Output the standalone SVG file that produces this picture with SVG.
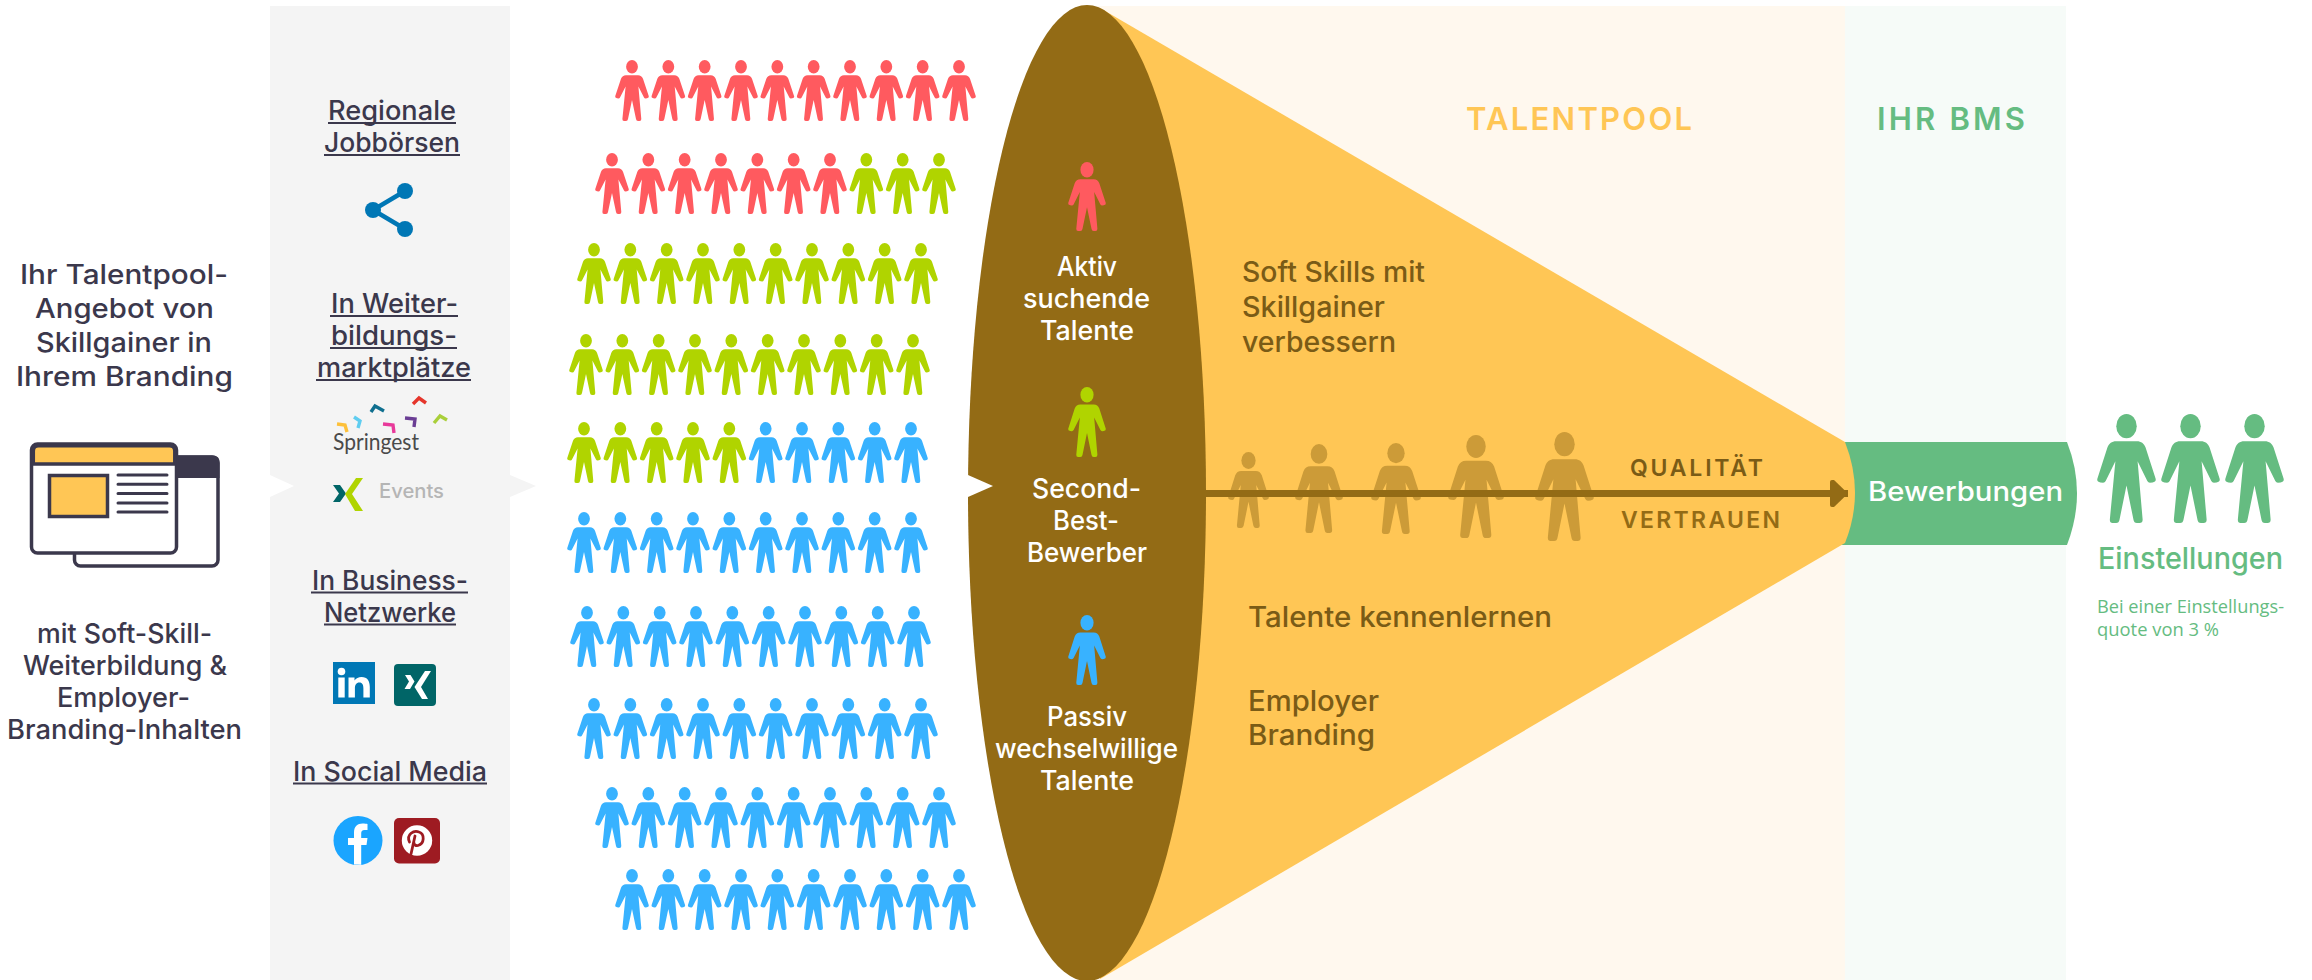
<svg xmlns="http://www.w3.org/2000/svg" width="2312" height="980" viewBox="0 0 2312 980">
<style>
text{font-family:"Inter","Noto Sans","Liberation Sans",sans-serif;font-size:27px;font-weight:500}
.d{fill:#3b384c}
.w{fill:#fff}
.f{fill:#7a5b16;font-weight:500;font-size:28px}
.cap{font-weight:600;font-size:23px}
.h{font-weight:600;font-size:31px}
.u{stroke:#3b384c;stroke-width:2;fill:none}
.r{fill:#ff5a5f}.g{fill:#b0d400}.b{fill:#38b2ff}.e{fill:#65bc81}.p{fill:#cc9b38}
.win{fill:#fff;stroke:#3b384c;stroke-width:3.5}
.ln{stroke:#3b384c;stroke-width:3;stroke-linecap:round}
.ch{fill:none;stroke-width:3.4}
</style>
<defs>
<g id="p">
<ellipse cx="17" cy="6.8" rx="5.9" ry="6.8"/>
<path d="M11 15.3H23C25.5 15.3 27 16.5 28 18.7L33.8 36.3Q34.2 38 32 38.3L30.5 38.5Q29.5 38.5 29 37.5L23.4 26.5L26.3 59Q26.4 61 24.5 61H23Q21.3 61 21 59L17 40L13 59Q12.7 61 11 61H9Q7.3 61 7.4 59L10.6 26.5L5 37.5Q4.5 38.5 3.5 38.5L2 38.3Q-.2 38 .2 36.3L6 18.7C7 16.5 8.5 15.3 11 15.3Z"/>
</g>
<marker id="ah" viewBox="0 0 18 27" refX="18" refY="13.5" markerWidth="18" markerHeight="27" markerUnits="userSpaceOnUse" orient="auto">
<path d="M2 0Q0 0 0 2V25Q0 27 2 27L4 27L18 13.5L4 0Z" fill="#936b15"/>
</marker>
</defs>

<g id="panels">
<rect x="270" y="6" width="240" height="974" fill="#f4f4f4"/>
<rect x="1087" y="6" width="758" height="974" fill="#fff8ee"/>
<rect x="1845" y="6" width="221" height="974" fill="#f6fbf8"/>
<path d="M270 475L294 486L270 497Z" fill="#fff"/>
<path d="M510 475L536 486L510 497Z" fill="#f4f4f4"/>
</g>

<g id="intro">
<text class="d" x="20" y="284" textLength="208" lengthAdjust="spacingAndGlyphs">Ihr Talentpool-</text>
<text class="d" x="35" y="318" textLength="179" lengthAdjust="spacingAndGlyphs">Angebot von</text>
<text class="d" x="36" y="352" textLength="176" lengthAdjust="spacingAndGlyphs">Skillgainer in</text>
<text class="d" x="16" y="386" textLength="217" lengthAdjust="spacingAndGlyphs">Ihrem Branding</text>
<text class="d" x="37" y="643" textLength="175" lengthAdjust="spacingAndGlyphs">mit Soft-Skill-</text>
<text class="d" x="23" y="675" textLength="204" lengthAdjust="spacingAndGlyphs">Weiterbildung &amp;</text>
<text class="d" x="57" y="707" textLength="133" lengthAdjust="spacingAndGlyphs">Employer-</text>
<text class="d" x="7" y="739" textLength="235" lengthAdjust="spacingAndGlyphs">Branding-Inhalten</text>
</g>

<g id="browser-icon">
<rect class="win" x="74.5" y="457" width="143.500" height="109" rx="6"/>
<path d="M150 455.500H213Q219.500 455.500 219.500 462V478H150Z" fill="#3b384c"/>
<rect class="win" x="31.500" y="444" width="145" height="109" rx="6"/>
<path d="M33.300 464V451Q33.300 445.800 38.500 445.800H169.500Q174.800 445.800 174.800 451V464Z" fill="#ffc655" stroke="#3b384c" stroke-width="3.500"/>
<rect x="49.500" y="475.500" width="58" height="41" fill="#ffc655" stroke="#3b384c" stroke-width="3.500"/>
<path class="ln" d="M118 475H167M118 484.300H167M118 493.500H167M118 503H167M118 512H167"/>
</g>

<g id="regionale-jobboersen">
<text class="d" x="328" y="120" textLength="128" lengthAdjust="spacingAndGlyphs">Regionale</text>
<path class="u" d="M328 123H456"/>
<text class="d" x="324" y="152" textLength="136" lengthAdjust="spacingAndGlyphs">Jobbörsen</text>
<path class="u" d="M324 155H460"/>
<path d="M405 191L373 210L405 229" fill="none" stroke="#0077b5" stroke-width="4.500"/>
<circle cx="405" cy="191" r="8" fill="#0077b5"/><circle cx="373" cy="210" r="8" fill="#0077b5"/><circle cx="405" cy="229" r="8" fill="#0077b5"/>
</g>

<g id="weiterbildungsmarktplaetze">
<text class="d" x="331" y="313" textLength="127" lengthAdjust="spacingAndGlyphs">In Weiter-</text>
<path class="u" d="M330 316H458"/>
<text class="d" x="331" y="345" textLength="126" lengthAdjust="spacingAndGlyphs">bildungs-</text>
<path class="u" d="M330 348H457"/>
<text class="d" x="317" y="377" textLength="154" lengthAdjust="spacingAndGlyphs">marktplätze</text>
<path class="u" d="M316 380H471"/>
<path class="ch" stroke="#e5352b" d="M413 404L419 398L426 403"/>
<path class="ch" stroke="#0f6f8f" d="M371 412L375 406L384 411"/>
<path class="ch" stroke="#5fcdf0" d="M354 417L360 421L358 428"/>
<path class="ch" stroke="#fdc03a" d="M337 424L345 425L347 432"/>
<path class="ch" stroke="#e8399a" d="M383 424L393 425L394 433"/>
<path class="ch" stroke="#6a3d94" d="M405 418L415 419L414 427"/>
<path class="ch" stroke="#a9cf3a" d="M434 423L440 416L447 420"/>
<text x="333" y="450" textLength="86" lengthAdjust="spacingAndGlyphs" style="font-family:Lato,'Noto Sans',sans-serif;font-size:24px;font-weight:400;fill:#4a4a4a">Springest</text>
<path d="M333 485H340L346 493.500L340 502H333L339 493.500Z" fill="#006567"/>
<path d="M356 478H363L352 494L363 511H355L345 494Z" fill="#b0d400"/>
<text x="379" y="498" textLength="65" lengthAdjust="spacingAndGlyphs" style="font-size:20px;fill:#b5b5b5">Events</text>
</g>

<g id="business-netzwerke">
<text class="d" x="312" y="590" textLength="156" lengthAdjust="spacingAndGlyphs">In Business-</text>
<path class="u" d="M311 592.500H468"/>
<text class="d" x="324" y="622" textLength="132" lengthAdjust="spacingAndGlyphs">Netzwerke</text>
<path class="u" d="M324 624.500H456"/>
<g transform="translate(0,1)">
<rect x="333" y="661" width="42" height="42" fill="#0077b5"/>
<circle cx="341.500" cy="670.500" r="3.800" fill="#fff"/>
<rect x="338.300" y="676.500" width="6.400" height="20" fill="#fff"/>
<path d="M348.500 676.500H354.500V679.500C356 677.500 358.500 676 361.500 676C367.500 676 369.800 680 369.800 686V696.500H363.400V687.500C363.400 684 362.500 681.500 359.300 681.500C356.300 681.500 354.900 684 354.900 687.500V696.500H348.500Z" fill="#fff"/>
<rect x="394" y="663" width="42" height="42" rx="4" fill="#006567"/>
<path d="M405 674H410.500L414.500 680.500L410 688H404.500L409 680.500ZM425 670H431L421 686L428 698H422L414.500 686Z" fill="#fff"/>
</g>
</g>

<g id="social-media">
<text class="d" x="293" y="781" textLength="194" lengthAdjust="spacingAndGlyphs">In Social Media</text>
<path class="u" d="M293 783.500H487"/>
<g transform="translate(0,1)">
<circle cx="358" cy="839.500" r="24.500" fill="#1aa5ff"/>
<path d="M354 863.500V844H348V837H354V831.500C354 825.500 357.500 822.500 362.500 822.500C364.500 822.500 366.500 822.800 367.500 823V829H364.500C362 829 361.200 830.500 361.200 832.500V837H367.500L366.500 844H361.200V863.800Z" fill="#fff"/>
<rect x="394" y="817" width="46" height="45.500" rx="5" fill="#9e1b22"/>
<circle cx="417" cy="839.500" r="15.200" fill="#fff"/>
<path d="M411 853L415 835M409.500 841C406 833 414 829 419 831C425 833 424.500 843 418 844.500C415.500 845 414 843.500 414 842" fill="none" stroke="#9e1b22" stroke-width="2.800" stroke-linecap="round"/>
</g>
</g>

<g id="talent-rows">
<g id="row1" class="r" transform="translate(615,60)"><use href="#p"/><use href="#p" x="36.33"/><use href="#p" x="72.67"/><use href="#p" x="109"/><use href="#p" x="145.33"/><use href="#p" x="181.67"/><use href="#p" x="218"/><use href="#p" x="254.33"/><use href="#p" x="290.67"/><use href="#p" x="327"/></g>
<g id="row2" class="r" transform="translate(595,153)"><use href="#p"/><use href="#p" x="36.33"/><use href="#p" x="72.67"/><use href="#p" x="109"/><use href="#p" x="145.33"/><use href="#p" x="181.67"/><use href="#p" x="218"/><use class="g" href="#p" x="254.33"/><use class="g" href="#p" x="290.67"/><use class="g" href="#p" x="327"/></g>
<g id="row3" class="g" transform="translate(577,243)"><use href="#p"/><use href="#p" x="36.33"/><use href="#p" x="72.67"/><use href="#p" x="109"/><use href="#p" x="145.33"/><use href="#p" x="181.67"/><use href="#p" x="218"/><use href="#p" x="254.33"/><use href="#p" x="290.67"/><use href="#p" x="327"/></g>
<g id="row4" class="g" transform="translate(569,334)"><use href="#p"/><use href="#p" x="36.33"/><use href="#p" x="72.67"/><use href="#p" x="109"/><use href="#p" x="145.33"/><use href="#p" x="181.67"/><use href="#p" x="218"/><use href="#p" x="254.33"/><use href="#p" x="290.67"/><use href="#p" x="327"/></g>
<g id="row5" class="g" transform="translate(567,422)"><use href="#p"/><use href="#p" x="36.33"/><use href="#p" x="72.67"/><use href="#p" x="109"/><use href="#p" x="145.33"/><use class="b" href="#p" x="181.67"/><use class="b" href="#p" x="218"/><use class="b" href="#p" x="254.33"/><use class="b" href="#p" x="290.67"/><use class="b" href="#p" x="327"/></g>
<g id="row6" class="b" transform="translate(567,512)"><use href="#p"/><use href="#p" x="36.33"/><use href="#p" x="72.67"/><use href="#p" x="109"/><use href="#p" x="145.33"/><use href="#p" x="181.67"/><use href="#p" x="218"/><use href="#p" x="254.33"/><use href="#p" x="290.67"/><use href="#p" x="327"/></g>
<g id="row7" class="b" transform="translate(570,606)"><use href="#p"/><use href="#p" x="36.33"/><use href="#p" x="72.67"/><use href="#p" x="109"/><use href="#p" x="145.33"/><use href="#p" x="181.67"/><use href="#p" x="218"/><use href="#p" x="254.33"/><use href="#p" x="290.67"/><use href="#p" x="327"/></g>
<g id="row8" class="b" transform="translate(577,698)"><use href="#p"/><use href="#p" x="36.33"/><use href="#p" x="72.67"/><use href="#p" x="109"/><use href="#p" x="145.33"/><use href="#p" x="181.67"/><use href="#p" x="218"/><use href="#p" x="254.33"/><use href="#p" x="290.67"/><use href="#p" x="327"/></g>
<g id="row9" class="b" transform="translate(595,787)"><use href="#p"/><use href="#p" x="36.33"/><use href="#p" x="72.67"/><use href="#p" x="109"/><use href="#p" x="145.33"/><use href="#p" x="181.67"/><use href="#p" x="218"/><use href="#p" x="254.33"/><use href="#p" x="290.67"/><use href="#p" x="327"/></g>
<g id="row10" class="b" transform="translate(615,869)"><use href="#p"/><use href="#p" x="36.33"/><use href="#p" x="72.67"/><use href="#p" x="109"/><use href="#p" x="145.33"/><use href="#p" x="181.67"/><use href="#p" x="218"/><use href="#p" x="254.33"/><use href="#p" x="290.67"/><use href="#p" x="327"/></g>
</g>

<g id="bewerbungen">
<path d="M1840 442H2067Q2087 493 2067 545H1840Z" fill="#65bc81"/>
<text class="w" x="1868" y="501" textLength="195" lengthAdjust="spacingAndGlyphs">Bewerbungen</text>
</g>

<g id="funnel">
<path d="M1100 8L1845 442Q1865 493 1845 543L1100 979Z" fill="#ffc655"/>
<ellipse cx="1087" cy="493" rx="119" ry="488" fill="#936b15"/>
<path d="M968 475L993 486L968 497Z" fill="#fff"/>
</g>

<g id="aktiv-suchende-talente">
<use class="r" href="#p" transform="translate(1068,162) scale(1.118,1.131)"/>
<text class="w" x="1057" y="276" textLength="60" lengthAdjust="spacingAndGlyphs">Aktiv</text>
<text class="w" x="1023" y="308" textLength="127" lengthAdjust="spacingAndGlyphs">suchende</text>
<text class="w" x="1040" y="340" textLength="94" lengthAdjust="spacingAndGlyphs">Talente</text>
</g>
<g id="second-best-bewerber">
<use class="g" href="#p" transform="translate(1068,387) scale(1.118,1.148)"/>
<text class="w" x="1032" y="498" textLength="109" lengthAdjust="spacingAndGlyphs">Second-</text>
<text class="w" x="1053" y="530" textLength="66" lengthAdjust="spacingAndGlyphs">Best-</text>
<text class="w" x="1027" y="562" textLength="120" lengthAdjust="spacingAndGlyphs">Bewerber</text>
</g>
<g id="passiv-wechselwillige-talente">
<use class="b" href="#p" transform="translate(1068,615) scale(1.118,1.148)"/>
<text class="w" x="1047" y="726" textLength="80" lengthAdjust="spacingAndGlyphs">Passiv</text>
<text class="w" x="995" y="758" textLength="183" lengthAdjust="spacingAndGlyphs">wechselwillige</text>
<text class="w" x="1040" y="790" textLength="94" lengthAdjust="spacingAndGlyphs">Talente</text>
</g>

<g id="header-talentpool">
<text class="h" x="1466" y="130" textLength="226" style="fill:#ffc655">TALENTPOOL</text>
</g>
<g id="header-ihr-bms">
<text class="h" x="1877" y="130" textLength="148" style="fill:#65bc81">IHR BMS</text>
</g>

<g id="soft-skills">
<text class="f" x="1242" y="282" textLength="183" lengthAdjust="spacingAndGlyphs">Soft Skills mit</text>
<text class="f" x="1242" y="317" textLength="143" lengthAdjust="spacingAndGlyphs">Skillgainer</text>
<text class="f" x="1242" y="352" textLength="154" lengthAdjust="spacingAndGlyphs">verbessern</text>
</g>
<g id="talente-kennenlernen">
<text class="f" x="1248" y="627" textLength="304" lengthAdjust="spacingAndGlyphs">Talente kennenlernen</text>
</g>
<g id="employer-branding">
<text class="f" x="1248" y="711" textLength="131" lengthAdjust="spacingAndGlyphs">Employer</text>
<text class="f" x="1248" y="745" textLength="127" lengthAdjust="spacingAndGlyphs">Branding</text>
</g>

<g id="quality-figures" class="p">
<use href="#p" transform="translate(1228,452) scale(1.206,1.246)"/>
<use href="#p" transform="translate(1295,444) scale(1.412,1.459)"/>
<use href="#p" transform="translate(1371,443) scale(1.471,1.492)"/>
<use href="#p" transform="translate(1448,435) scale(1.647,1.689)"/>
<use href="#p" transform="translate(1535,432) scale(1.735,1.787)"/>
</g>

<g id="connectors">
<path d="M1205 493.500H1848" fill="none" stroke="#936b15" stroke-width="7" marker-end="url(#ah)"/>
</g>

<g id="qualitaet">
<text class="cap" x="1630" y="476" textLength="133" style="fill:#7a5b16">QUALITÄT</text>
</g>
<g id="vertrauen">
<text class="cap" x="1621" y="528" textLength="159" style="fill:#936b15">VERTRAUEN</text>
</g>

<g id="einstellungen">
<use class="e" href="#p" transform="translate(2097,414) scale(1.735,1.787)"/>
<use class="e" href="#p" transform="translate(2161,414) scale(1.735,1.787)"/>
<use class="e" href="#p" transform="translate(2225,414) scale(1.735,1.787)"/>
<text x="2098" y="569" textLength="185" lengthAdjust="spacingAndGlyphs" style="font-size:30px;font-weight:500;fill:#65bc81">Einstellungen</text>
<text x="2097" y="613" textLength="187" lengthAdjust="spacingAndGlyphs" style="font-family:'Open Sans',sans-serif;font-size:18px;font-weight:400;fill:#65bc81">Bei einer Einstellungs-</text>
<text x="2097" y="636" textLength="122" lengthAdjust="spacingAndGlyphs" style="font-family:'Open Sans',sans-serif;font-size:18px;font-weight:400;fill:#65bc81">quote von 3 %</text>
</g>
</svg>
